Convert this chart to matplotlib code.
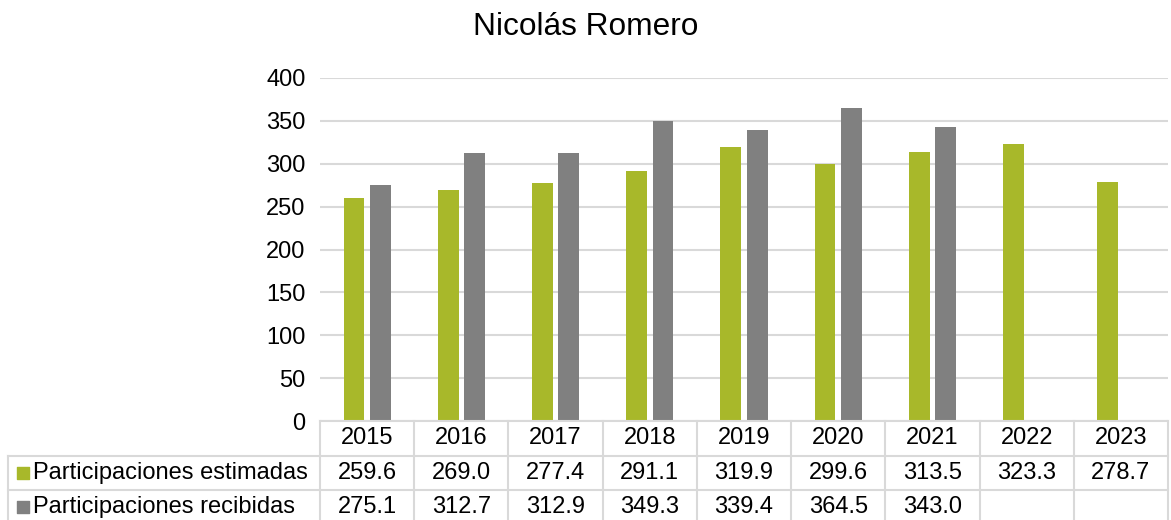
import matplotlib
matplotlib.use("Agg")
import matplotlib.pyplot as plt
import numpy as np

plt.rcParams['font.family'] = ['Liberation Sans', 'DejaVu Sans']

TITLE = "Nicolás Romero"
years = ["2015", "2016", "2017", "2018", "2019", "2020", "2021", "2022", "2023"]
estimadas = [259.6, 269.0, 277.4, 291.1, 319.9, 299.6, 313.5, 323.3, 278.7]
recibidas = [275.1, 312.7, 312.9, 349.3, 339.4, 364.5, 343.0, None, None]
series_names = ["Participaciones estimadas", "Participaciones recibidas"]
series_colors = ["#A8B82A", "#808080"]

GRID = "#D9D9D9"
W, H = 1171, 520
FS = 17


def px(x0, y0, x1, y1):
  """figure-pixel box (top-left origin) -> add_axes rect"""
  return [x0 / W, 1 - y1 / H, (x1 - x0) / W, (y1 - y0) / H]


fig = plt.figure(figsize=(W / 100, H / 100), dpi=100)

# chart area
ax = fig.add_axes(px(320, 78, 1168, 421))
n = len(years)
x = np.arange(n)
bw = 0.22
est_vals = np.array(estimadas)
rec_vals = np.array([np.nan if v is None else v for v in recibidas])
ax.bar(x - 0.14, est_vals, bw, color=series_colors[0])
ax.bar(x + 0.14, rec_vals, bw, color=series_colors[1])
ax.set_xlim(-0.5, n - 0.5)
ax.set_ylim(0, 400)
ax.set_yticks(np.arange(0, 401, 50))
ax.yaxis.grid(True, color=GRID, linewidth=1.5)
ax.set_axisbelow(True)
ax.set_xticks([])
ax.tick_params(axis="y", length=0, pad=10.5, labelsize=FS)
for s in ax.spines.values():
  s.set_visible(False)

fig.text(0.5, 1 - 27 / H, TITLE, ha="center", va="center", fontsize=22.8)

# data table underneath, sharing the category scale
upp = n / (1168 - 320)            # data units per pixel
left = -0.5 - (320 - 8) * upp
tab = fig.add_axes(px(8, 421, 1168, 520))
row_h = 34.5
tab.set_xlim(left, n - 0.5)
tab.set_ylim((520 - 421) / row_h, 0)
tab.axis("off")

lw = 1.5
kw = dict(color=GRID, linewidth=lw, clip_on=False)
# horizontal lines
tab.plot([-0.5, n - 0.5], [0, 0], **kw)
tab.plot([left, n - 0.5], [1, 1], **kw)
tab.plot([left, n - 0.5], [2, 2], **kw)
# vertical lines
for b in np.arange(n + 1) - 0.5:
  tab.plot([b, b], [0, 3], **kw)
tab.plot([left, left], [1, 3], **kw)

for i, yr in enumerate(years):
  tab.text(i, 0.5, yr, ha="center", va="center", fontsize=FS)

rows = [estimadas, recibidas]
for r, (vals, name, col) in enumerate(zip(rows, series_names, series_colors)):
  yc = 1.5 + r
  tab.scatter([left + 15 * upp], [yc], marker="s", s=80, color=col,
              clip_on=False)
  tab.text(left + 25 * upp, yc, name, ha="left", va="center", fontsize=FS)
  for i, v in enumerate(vals):
    if v is not None:
      tab.text(i, yc, "%.1f" % v, ha="center", va="center", fontsize=FS)

fig.savefig("out.png", dpi=100)
